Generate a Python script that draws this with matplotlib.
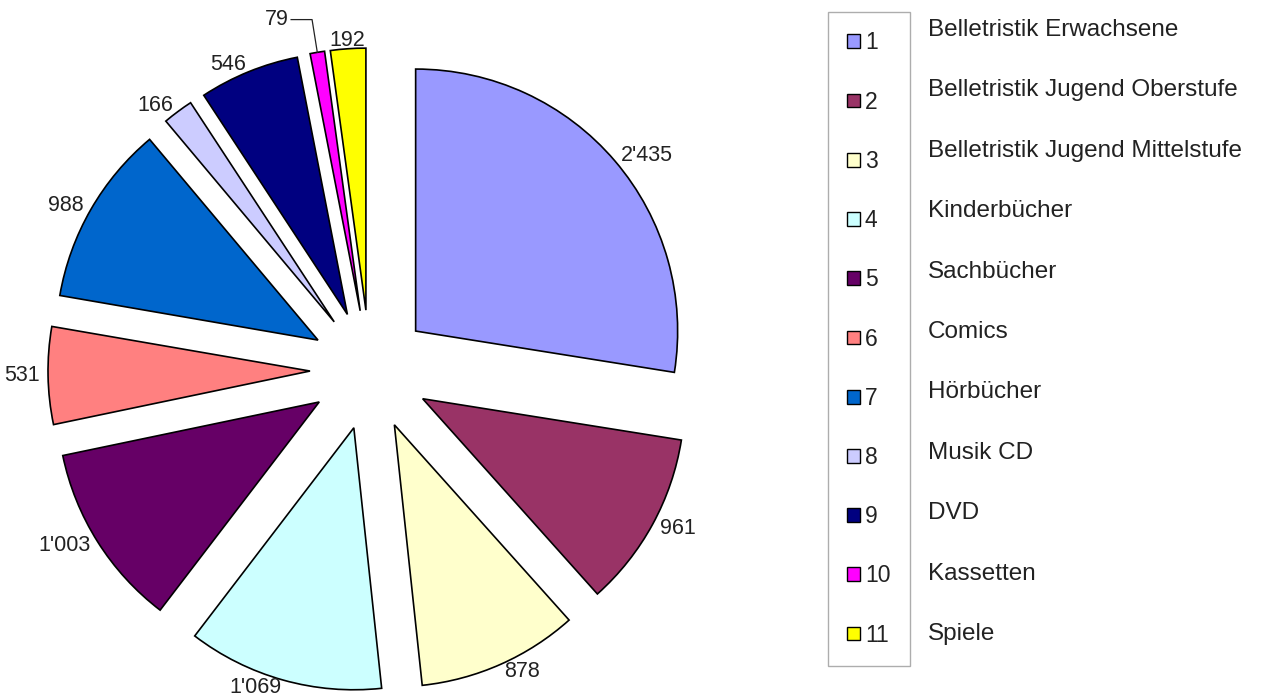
import matplotlib
matplotlib.use("Agg")
import matplotlib.pyplot as plt
from matplotlib.patches import Patch
import numpy as np

plt.rcParams['font.family'] = ['Liberation Sans', 'DejaVu Sans']

# data
categories = ['Belletristik Erwachsene', 'Belletristik Jugend Oberstufe',
              'Belletristik Jugend Mittelstufe', 'Kinderbücher', 'Sachbücher',
              'Comics', 'Hörbücher', 'Musik CD', 'DVD', 'Kassetten', 'Spiele']
legend_ids = ['1', '2', '3', '4', '5', '6', '7', '8', '9', '10', '11']
values = [2435, 961, 878, 1069, 1003, 531, 988, 166, 546, 79, 192]
colors = ['#9999FF', '#993366', '#FFFFCC', '#CCFFFF', '#660066', '#FF8080',
          '#0066CC', '#CCCCFF', '#000080', '#FF00FF', '#FFFF00']


def fmt(v):
    return f"{v:,}".replace(',', "'")


W, H = 1267, 699
fig = plt.figure(figsize=(W / 100, H / 100), dpi=100)

# pie axes: centre at (370, 370) px, radius 262 px
r_px = 262
cx, cy = 370, 370
ax = fig.add_axes([0, 0, 2 * cx / W, 1])

labels = [fmt(v) for v in values]
labels[9] = ''  # drawn with a leader line below
explode = [0.229] * len(values)

wedges, texts = ax.pie(values, labels=labels, colors=colors, explode=explode,
                       startangle=90, counterclock=False, radius=1.0,
                       labeldistance=1.03,
                       wedgeprops=dict(edgecolor='black', linewidth=1.2),
                       textprops=dict(fontsize=15.5, color='#222222'))
texts[10].set_ha('center')
ax.set_xlim(-cx / r_px, cx / r_px)
ax.set_ylim(-(H - cy) / r_px, cy / r_px)
ax.axis('off')

# leader line for the tiny "Kassetten" slice
w = wedges[9]
mid = np.deg2rad((w.theta1 + w.theta2) / 2)
tip_x = w.center[0] + 1.0 * np.cos(mid)
tip_y = w.center[1] + 1.0 * np.sin(mid)
lab_y = tip_y + 0.125
ax.plot([tip_x - 0.1, tip_x - 0.02, tip_x], [lab_y, lab_y, tip_y],
        color='#222222', lw=0.9)
ax.text(tip_x - 0.11, lab_y, fmt(values[9]), ha='right', va='center',
        fontsize=15.5, color='#222222')

# legend with numbers
handles = [Patch(facecolor=c, edgecolor='black', linewidth=1.0) for c in colors]
leg = fig.legend(handles, legend_ids, loc='upper left',
                 bbox_to_anchor=(828 / W, 1 - 12 / H), borderaxespad=0,
                 fontsize=16.5, handlelength=0.56, handleheight=0.55,
                 handletextpad=0.2, labelspacing=1.58, borderpad=0.85,
                 frameon=True, fancybox=False, edgecolor='#999999')
leg.get_frame().set_linewidth(1.0)
for t in leg.get_texts():
    t.set_color('#222222')

# category names beside the legend
y0, y1 = 30, 634
for i, name in enumerate(categories):
    y = y0 + (y1 - y0) * i / (len(categories) - 1)
    fig.text(928 / W, 1 - y / H, name, ha='left', va='center',
             fontsize=17.5, color='#222222')

fig.savefig('out.png', dpi=100, facecolor='white')
